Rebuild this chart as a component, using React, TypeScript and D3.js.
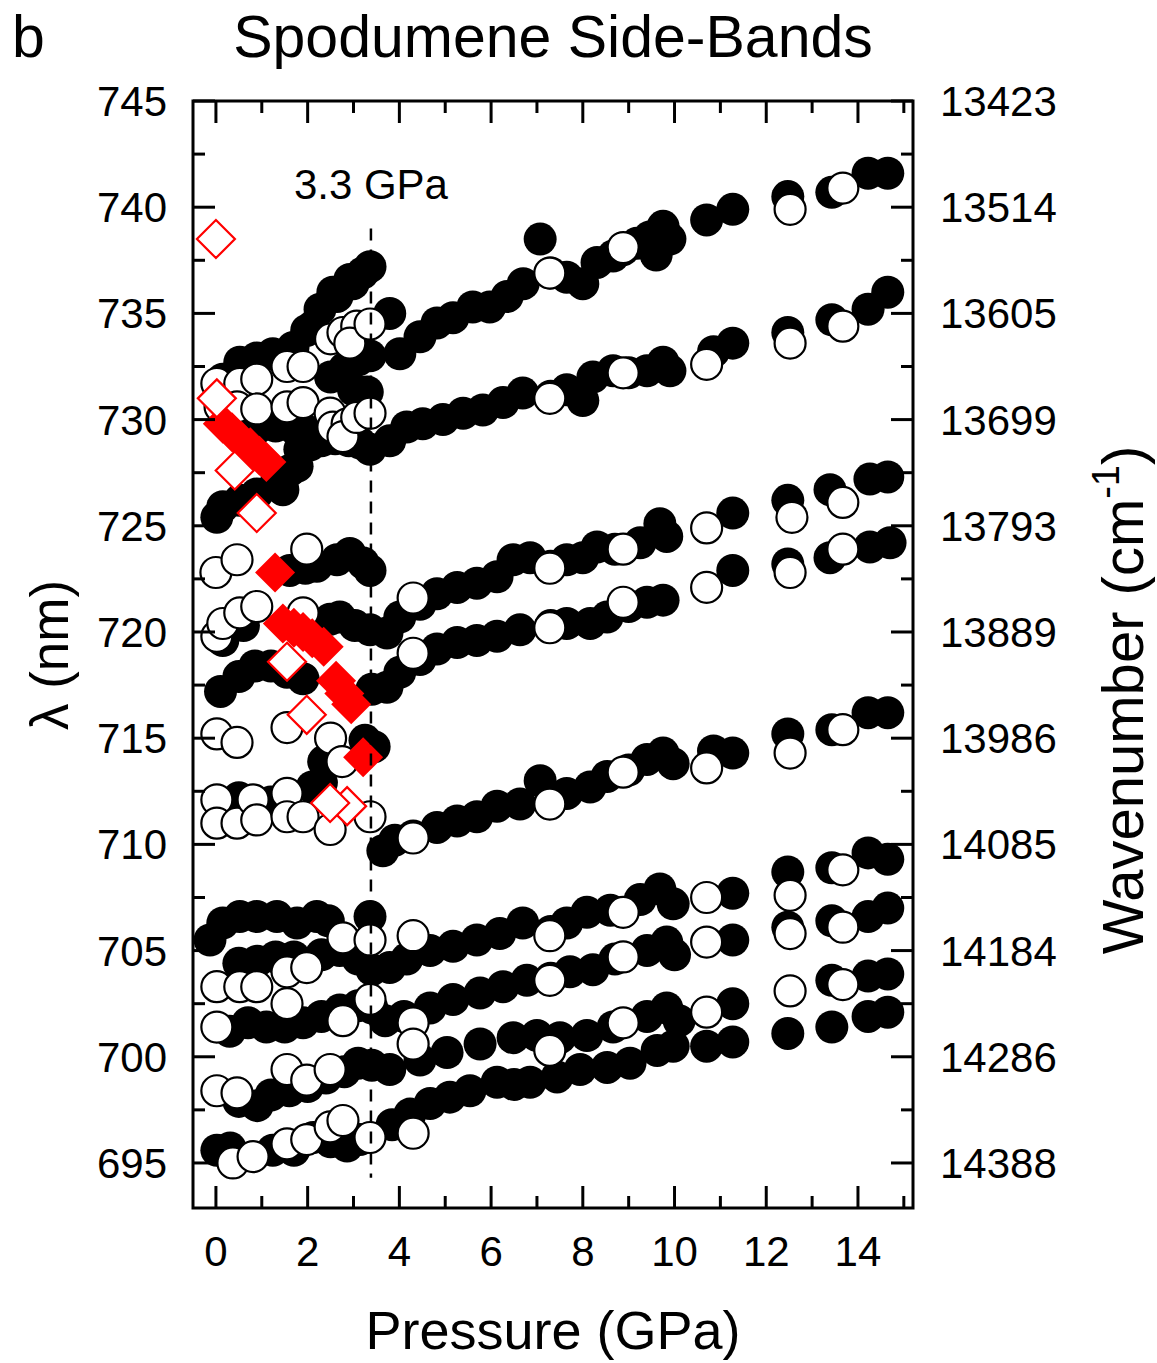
import React from "react";
import * as d3 from "d3";

type Pt = [number, number];

// ---- High-pressure phase (P > 3.3 GPa): [pressure GPa, wavelength nm] ----
const hpA_filled: Pt[] = [[3.79,735.0],[4.01,733.1],[4.45,733.9],[4.82,734.55],[5.17,734.8],[5.6,735.3],[5.97,735.3],[6.35,735.8],[6.7,736.4],[7.07,738.5],[7.3,736.9],[7.65,736.7],[8.0,736.4],[8.31,737.4],[8.66,737.7],[8.88,738.0],[9.18,738.3],[9.46,738.6],[9.6,737.75],[9.75,739.1],[9.9,738.5],[10.7,739.4],[11.27,739.9],[12.47,740.5],[13.43,740.7],[14.22,741.6],[14.65,741.6]];
const hpA_open: Pt[] = [[7.28,736.9],[8.88,738.1],[12.52,739.9],[13.67,740.9]];

const hpB_filled: Pt[] = [[3.36,728.6],[3.79,729.0],[4.16,729.65],[4.51,729.8],[4.95,730.0],[5.39,730.3],[5.82,730.45],[6.26,730.8],[6.69,731.25],[7.3,731.1],[7.65,731.4],[8.0,730.9],[8.22,732.0],[8.66,732.3],[9.0,732.2],[9.4,732.3],[9.75,732.7],[9.9,732.3],[10.85,733.2],[11.27,733.6],[12.47,734.1],[13.43,734.7],[14.22,735.2],[14.65,736.0]];
const hpB_open: Pt[] = [[7.28,731.0],[8.88,732.2],[10.7,732.6],[12.52,733.6],[13.67,734.4]];

const hpC_filled: Pt[] = [[3.73,719.95],[4.01,720.7],[4.45,721.3],[4.82,721.8],[5.26,722.1],[5.69,722.3],[6.13,722.6],[6.48,723.4],[6.85,723.5],[7.3,723.1],[7.65,723.4],[8.0,723.5],[8.31,724.0],[8.7,723.9],[9.25,724.2],[9.68,725.1],[9.83,724.5],[11.27,725.6],[12.47,726.2],[13.39,726.7],[14.26,727.2],[14.65,727.3]];
const hpC_open: Pt[] = [[4.3,721.6],[7.28,723.0],[8.88,723.9],[10.7,724.9],[12.56,725.4],[13.67,726.1]];

const hpD_filled: Pt[] = [[3.4,717.3],[3.73,717.4],[4.01,718.1],[4.45,718.7],[4.82,719.2],[5.26,719.5],[5.69,719.6],[6.13,719.8],[6.63,720.1],[7.3,720.3],[7.65,720.4],[8.16,720.4],[8.53,720.7],[9.0,721.2],[9.4,721.4],[9.75,721.5],[11.27,722.9],[12.47,723.2],[13.39,723.5],[14.26,724.0],[14.7,724.2]];
const hpD_open: Pt[] = [[4.3,719.0],[7.28,720.2],[8.88,721.4],[10.7,722.1],[12.52,722.8],[13.67,723.9]];

const hpE_filled: Pt[] = [[3.64,709.7],[3.9,710.2],[4.3,710.4],[4.82,710.8],[5.26,711.1],[5.69,711.3],[6.13,711.8],[6.63,711.9],[7.07,713.0],[7.3,712.0],[7.65,712.4],[8.16,712.7],[8.53,713.2],[9.0,713.5],[9.4,714.0],[9.75,714.3],[9.97,713.8],[10.85,714.4],[11.27,714.3],[12.47,715.2],[13.43,715.4],[14.22,716.2],[14.65,716.2]];
const hpE_open: Pt[] = [[4.3,710.3],[7.28,711.9],[8.88,713.4],[10.7,713.6],[12.52,714.3],[13.67,715.4]];

const hpF_filled: Pt[] = [[3.79,704.2],[4.16,704.6],[4.67,705.0],[5.17,705.2],[5.69,705.5],[6.19,705.8],[6.69,706.3],[7.3,705.9],[7.65,706.3],[8.09,706.8],[8.6,706.9],[9.25,707.4],[9.68,707.9],[9.97,707.2],[11.27,707.7],[12.47,708.7],[13.43,708.9],[14.22,709.6],[14.65,709.3]];
const hpF_open: Pt[] = [[4.3,705.7],[7.28,705.7],[8.88,706.8],[10.7,707.5],[12.52,707.6],[13.67,708.8]];

const hpG_filled: Pt[] = [[3.69,701.7],[4.1,701.9],[4.67,702.3],[5.17,702.7],[5.76,703.0],[6.26,703.3],[6.78,703.6],[7.3,703.7],[7.72,704.0],[8.22,704.1],[8.7,704.6],[9.4,705.0],[9.83,705.4],[10.0,704.8],[11.27,705.5],[12.47,706.1],[13.43,706.4],[14.22,706.6],[14.65,707.0]];
const hpG_open: Pt[] = [[4.3,701.6],[7.28,703.6],[8.88,704.7],[10.7,705.4],[12.52,705.8],[13.67,706.1]];

const hpH_filled: Pt[] = [[3.79,699.4],[4.45,699.85],[5.04,700.2],[5.76,700.6],[6.48,700.9],[7.0,701.0],[7.5,700.9],[8.09,701.0],[8.66,701.4],[9.4,701.9],[9.83,702.3],[10.1,701.7],[11.27,702.5],[13.43,703.6],[14.22,703.8],[14.65,703.9]];
const hpH_open: Pt[] = [[4.3,700.6],[7.28,700.3],[8.88,701.6],[10.7,702.1],[12.52,703.1],[13.67,703.4]];

const hpI_filled: Pt[] = [[3.84,696.8],[4.23,697.3],[4.67,697.8],[5.1,698.1],[5.54,698.4],[6.13,698.8],[6.5,698.7],[6.85,698.8],[7.44,699.05],[7.94,699.4],[8.53,699.5],[9.03,699.7],[9.62,700.3],[9.97,700.5],[10.7,700.5],[11.27,700.7],[12.47,701.1],[13.43,701.4],[14.22,701.9],[14.65,702.1]];
const hpI_open: Pt[] = [[4.3,696.4]];

// ---- Low-pressure phase (P < 3.3 GPa) ----
const lpSteep_filled: Pt[] = [[0.15,731.9],[0.52,732.7],[0.89,732.9],[1.24,733.1],[1.68,733.4],[1.98,734.2],[2.12,734.4],[2.27,735.2],[2.55,736.0],[2.64,735.8],[2.92,736.6],[2.99,736.4],[3.2,736.9],[3.36,737.2]];
const lpUpper_open: Pt[] = [[0.02,731.7],[0.52,731.7],[0.89,731.9],[1.55,732.5],[1.9,732.5],[2.5,733.8],[2.77,734.1],[3.07,734.4],[2.92,733.6],[3.36,734.5]];
const lpMid_filled: Pt[] = [[2.5,732.0],[2.8,732.4],[3.1,732.8],[3.36,733.0],[3.0,731.4],[3.3,731.3]];
const lpMid_open: Pt[] = [[0.09,730.6],[0.46,730.6],[0.89,730.5],[1.55,730.6],[1.9,730.8],[2.49,730.3],[2.55,729.65],[2.86,729.8],[2.77,729.2],[3.07,730.1],[3.36,730.3]];
const lpD_filled: Pt[] = [[0.9,729.6],[1.3,729.7],[1.7,729.6],[2.05,729.4],[2.3,729.0],[2.6,729.1],[2.9,729.0],[3.14,728.9]];
const lpRise_filled: Pt[] = [[0.02,725.4],[0.15,725.9],[0.52,726.2],[0.89,726.5],[1.33,727.2],[1.46,726.7],[1.61,727.6],[1.77,727.8],[1.83,728.6],[2.05,728.8]];
const lpF_filled: Pt[] = [[1.61,722.9],[1.95,723.0],[2.2,723.1],[2.64,723.4],[2.92,723.7],[3.21,723.25],[3.36,722.9]];
const lpF_open: Pt[] = [[0.0,722.8],[0.46,723.4],[1.98,723.9]];
const lpG_filled: Pt[] = [[0.15,719.6],[0.6,720.3]];
const lpG_open: Pt[] = [[0.02,719.8],[0.15,720.4],[0.52,720.9],[0.89,721.2],[1.9,720.9]];
const lpH_filled: Pt[] = [[2.49,720.6],[2.7,720.7],[3.03,720.3],[3.36,720.1]];
const lpI_filled: Pt[] = [[0.1,717.2],[0.5,717.9],[0.85,718.4],[1.2,718.4],[1.55,718.1],[1.9,717.8]];
const lpJ_filled: Pt[] = [[2.35,713.9],[3.25,714.9],[3.45,714.6]];
const lpJ_open: Pt[] = [[0.02,715.2],[0.46,714.8],[1.55,715.5],[2.5,715.0],[2.75,713.9]];
const lpK_filled: Pt[] = [[0.5,712.2],[1.2,712.0],[2.1,712.7],[2.3,712.9]];
const lpK_open: Pt[] = [[0.02,712.1],[0.02,711.0],[0.46,711.0],[0.81,712.1],[0.89,711.15],[1.55,712.4],[1.55,711.3],[1.9,711.3],[2.49,710.7],[3.36,711.3]];
const lpL_filled: Pt[] = [[-0.13,705.5],[0.15,706.3],[0.52,706.6],[0.89,706.6],[1.33,706.6],[1.77,706.3],[2.2,706.6],[2.45,706.4],[3.36,706.6]];
const lpL_open: Pt[] = [[2.77,705.6],[3.36,705.5]];
const lpM_filled: Pt[] = [[0.5,704.4],[0.9,704.5],[1.3,704.7],[1.7,704.7],[2.3,704.8],[2.7,705.0],[3.1,704.6],[3.4,704.1]];
const lpM_open: Pt[] = [[0.02,703.3],[0.52,703.3],[0.89,703.3],[1.55,704.0],[1.98,704.2]];
const lpN_filled: Pt[] = [[0.3,701.2],[0.7,701.6],[1.1,701.4],[1.5,701.4],[1.9,701.6],[2.3,701.9],[2.7,702.2],[3.1,702.4],[3.4,702.3]];
const lpN_open: Pt[] = [[0.02,701.4],[1.55,702.5],[2.77,701.7],[3.36,702.7]];
const lpO_filled: Pt[] = [[0.5,697.9],[0.9,697.7],[1.2,698.2],[1.6,698.4],[2.0,698.6],[2.4,699.0],[2.8,699.3],[3.1,699.7],[3.4,699.6]];
const lpO_open: Pt[] = [[0.02,698.4],[0.46,698.3],[1.55,699.4],[1.98,698.9],[2.49,699.4]];
const lpP_filled: Pt[] = [[0.02,695.6],[0.31,695.7],[1.24,695.6],[1.7,695.6],[2.12,696.2],[2.5,696.0],[2.86,695.8],[3.14,696.1]];
const lpP_open: Pt[] = [[0.37,695.0],[0.81,695.3],[1.55,695.9],[1.98,696.1],[2.49,696.7],[2.77,697.0],[3.36,696.2]];

// red diamonds
const redFilled: Pt[] = [[0.15,729.8],[0.35,729.4],[0.55,729.0],[0.75,728.7],[0.95,728.3],[1.1,728.0],[1.29,722.8],[1.46,720.4],[1.7,720.2],[1.9,720.0],[2.1,719.7],[2.35,719.3],[2.62,717.7],[2.8,717.1],[2.95,716.6],[3.21,714.1]];
const redOpen: Pt[] = [[0.0,738.5],[0.02,731.0],[0.41,727.6],[0.89,725.6],[1.55,718.6],[1.98,716.1],[2.86,711.8],[2.49,711.95]];

// axes
const xMajorTicks = [0, 2, 4, 6, 8, 10, 12, 14];
const xMinorTicks = [1, 3, 5, 7, 9, 11, 13, 15];
const yMajorTicks = [695, 700, 705, 710, 715, 720, 725, 730, 735, 740, 745];
const yMinorTicks = [697.5, 702.5, 707.5, 712.5, 717.5, 722.5, 727.5, 732.5, 737.5, 742.5];
const wavenumberLabels = ["14388", "14286", "14184", "14085", "13986", "13889", "13793", "13699", "13605", "13514", "13423"];
const transitionP = 3.38;
const transitionLabel = "3.3 GPa";

const FONT = "'Liberation Sans', Arial, Helvetica, sans-serif";

export default function App() {
  const W = 1157, H = 1363;
  const L = 193, R = 913, T = 101, B = 1208;
  const x = d3.scaleLinear().domain([-0.5, 15.2]).range([L, R]);
  const y = d3.scaleLinear().domain([692.88, 745]).range([B, T]);

  const filled: Pt[] = [
    ...hpA_filled, ...hpB_filled, ...hpC_filled, ...hpD_filled, ...hpE_filled,
    ...hpF_filled, ...hpG_filled, ...hpH_filled, ...hpI_filled,
    ...lpSteep_filled, ...lpMid_filled, ...lpD_filled, ...lpRise_filled, ...lpF_filled,
    ...lpG_filled, ...lpH_filled, ...lpI_filled, ...lpJ_filled, ...lpK_filled,
    ...lpL_filled, ...lpM_filled, ...lpN_filled, ...lpO_filled, ...lpP_filled,
  ];
  const open: Pt[] = [
    ...hpA_open, ...hpB_open, ...hpC_open, ...hpD_open, ...hpE_open,
    ...hpF_open, ...hpG_open, ...hpH_open, ...hpI_open,
    ...lpUpper_open, ...lpMid_open, ...lpF_open, ...lpG_open, ...lpJ_open,
    ...lpK_open, ...lpL_open, ...lpM_open, ...lpN_open, ...lpO_open, ...lpP_open,
  ];

  const diamond = (p: Pt, s: number) => {
    const cx = x(p[0]), cy = y(p[1]);
    return `M${cx},${cy - s}L${cx + s},${cy}L${cx},${cy + s}L${cx - s},${cy}Z`;
  };

  const tickW = 3;
  return (
    <svg width={W} height={H} style={{ position: "absolute", left: 0, top: 0, background: "#fff" }} fontFamily={FONT}>
      <rect x={0} y={0} width={W} height={H} fill="#fff" />
      {/* data */}
      <g>
        {filled.map((p, i) => (
          <circle key={"f" + i} cx={x(p[0])} cy={y(p[1])} r={16.5} fill="#000" />
        ))}
        {open.map((p, i) => (
          <circle key={"o" + i} cx={x(p[0])} cy={y(p[1])} r={15.5} fill="#fff" stroke="#000" strokeWidth={2.2} />
        ))}
        {redFilled.map((p, i) => (
          <path key={"rf" + i} d={diamond(p, 20)} fill="#ff0000" />
        ))}
        {redOpen.map((p, i) => (
          <path key={"ro" + i} d={diamond(p, 19)} fill="#fff" stroke="#ff0000" strokeWidth={2.2} />
        ))}
      </g>
      {/* transition line */}
      <line x1={x(transitionP)} x2={x(transitionP)} y1={y(739.0)} y2={y(694.3)} stroke="#000" strokeWidth={2.5} strokeDasharray="12,9" />
      <text x={x(transitionP)} y={199} fontSize={42} textAnchor="middle">{transitionLabel}</text>

      {/* frame */}
      <rect x={L} y={T} width={R - L} height={B - T} fill="none" stroke="#000" strokeWidth={3} />
      {/* x ticks bottom & top */}
      {xMajorTicks.map((t) => (
        <g key={"xM" + t}>
          <line x1={x(t)} x2={x(t)} y1={B} y2={B - 22} stroke="#000" strokeWidth={tickW} />
          <line x1={x(t)} x2={x(t)} y1={T} y2={T + 22} stroke="#000" strokeWidth={tickW} />
          <text x={x(t)} y={1266} fontSize={42} textAnchor="middle">{t}</text>
        </g>
      ))}
      {xMinorTicks.map((t) => (
        <g key={"xm" + t}>
          <line x1={x(t)} x2={x(t)} y1={B} y2={B - 12} stroke="#000" strokeWidth={tickW} />
          <line x1={x(t)} x2={x(t)} y1={T} y2={T + 12} stroke="#000" strokeWidth={tickW} />
        </g>
      ))}
      {/* y ticks left & right */}
      {yMajorTicks.map((t, i) => (
        <g key={"yM" + t}>
          <line x1={L} x2={L + 22} y1={y(t)} y2={y(t)} stroke="#000" strokeWidth={tickW} />
          <line x1={R} x2={R - 22} y1={y(t)} y2={y(t)} stroke="#000" strokeWidth={tickW} />
          <text x={167} y={y(t) + 15} fontSize={42} textAnchor="end">{t}</text>
          <text x={940} y={y(t) + 15} fontSize={42} textAnchor="start">{wavenumberLabels[i]}</text>
        </g>
      ))}
      {yMinorTicks.map((t) => (
        <g key={"ym" + t}>
          <line x1={L} x2={L + 12} y1={y(t)} y2={y(t)} stroke="#000" strokeWidth={tickW} />
          <line x1={R} x2={R - 12} y1={y(t)} y2={y(t)} stroke="#000" strokeWidth={tickW} />
        </g>
      ))}

      {/* titles */}
      <text x={12} y={57} fontSize={59}>b</text>
      <text x={553} y={57} fontSize={59} textAnchor="middle">Spodumene Side-Bands</text>
      <text x={553} y={1349} fontSize={54} textAnchor="middle">Pressure (GPa)</text>
      <text transform="translate(68,655) rotate(-90)" fontSize={53} textAnchor="middle">λ (nm)</text>
      <text transform="translate(1143,700) rotate(-90)" fontSize={58} textAnchor="middle">
        Wavenumber (cm<tspan fontSize={38} dy={-24}>-1</tspan><tspan dy={24}>)</tspan>
      </text>
    </svg>
  );
}
